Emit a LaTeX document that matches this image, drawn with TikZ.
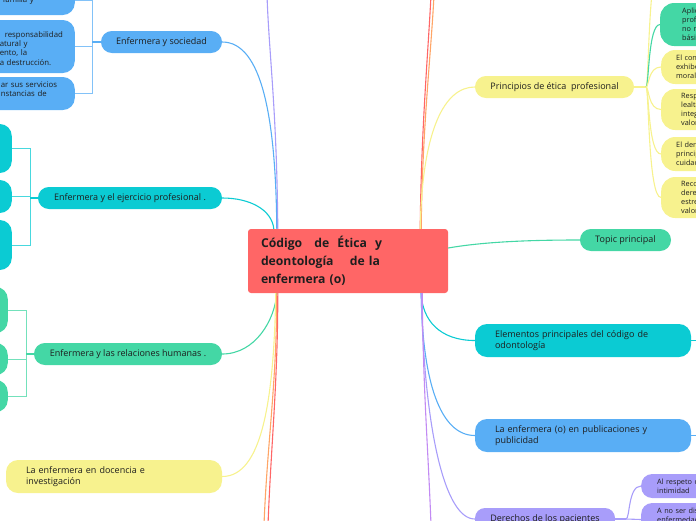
\documentclass[tikz,border=0pt]{standalone}
\usepackage{fontspec}
\setmainfont{Open Sans}
\definecolor{cred}{HTML}{FF6666}
\definecolor{cblue}{HTML}{59AEF5}
\definecolor{cteal}{HTML}{0BCBD3}
\definecolor{cgreen}{HTML}{44D7A5}
\definecolor{cyellow}{HTML}{F7F28E}
\definecolor{cpurple}{HTML}{A89DFA}
\definecolor{cviolet}{HTML}{C28AF3}
\definecolor{corange}{HTML}{FFA566}
\definecolor{txt}{HTML}{1E1E1E}
\begin{document}
\begin{tikzpicture}[x=1pt,y=-1pt,
  conn/.style={draw=#1, line width=1.1pt},
  brk/.style={draw=#1!75!white, line width=1pt},
  pill/.style={fill=#1, draw=none, rounded corners=10.9pt, inner sep=0pt, text=txt,
     minimum height=22pt, font=\fontsize{9}{11}\selectfont},
  tbox/.style={fill=#1, draw=none, rounded corners=12pt, inner ysep=0pt, text=txt,
     align=left, font=\fontsize{9}{11.2}\selectfont},
  sbox/.style={fill=#1, draw=none, rounded corners=12pt, inner ysep=0pt, text=txt,
     align=left, font=\fontsize{7.8}{9.3}\selectfont,
     execute at begin node={\hyphenpenalty=10000\exhyphenpenalty=10000}},
  rbox/.style={fill=#1, draw=none, rounded corners=14pt, inner ysep=0pt, text=txt,
     align=left, font=\fontsize{7.3}{8.9}\selectfont,
     execute at begin node={\hyphenpenalty=10000\exhyphenpenalty=10000}},
  ]
\useasboundingbox (0,0) rectangle (696,520);
\clip (0,0) rectangle (696,520);

% central
\node[fill=cred, rounded corners=3pt, inner ysep=0pt, inner xsep=13pt, minimum height=64pt,
  text width=174pt, align=left, text=txt, font=\fontsize{12.2}{18}\selectfont\bfseries]
  (c) at (348,261) {Código\ \ \ de\ \ Ética\ \ y\\deontología\ \ \ \ de la\\enfermera (o)};

% ---------- left side
\node[pill=cblue, minimum width=121pt] (soc) at (161.5,42) {Enfermera y sociedad};
\node[pill=cteal, minimum width=184pt] (ejer) at (130,198) {Enfermera y el ejercicio profesional .};
\node[pill=cgreen, minimum width=188pt] (rel) at (128,354) {Enfermera y las relaciones humanas .};
\node[tbox=cyellow, inner xsep=20pt, text width=176pt, minimum height=33pt] (doc) at (114,476.5)
  {La enfermera en docencia e\\investigación};

% blue children
\node[sbox=cblue, anchor=east, inner xsep=12pt, text width=63pt, minimum height=30pt] (b1) at (75,0) {\hspace*{3pt}familia y};
\node[sbox=cblue, anchor=east, inner xsep=12pt, text width=63pt, minimum height=53pt] (b2) at (75,46.5)
  {\mbox{}\\\hspace*{5pt}responsabilidad\\atural y\\ento, la\\a destrucción.};
\node[sbox=cblue, anchor=east, inner xsep=12pt, text width=63pt, minimum height=33pt] (b3) at (75,93.5)
  {\hspace*{1pt}ar sus servicios\\\hspace*{1pt}nstancias de\\\mbox{}};
% teal children
\node[sbox=cteal, anchor=east, minimum width=40pt, minimum height=49pt] (e1) at (12,148.5) {};
\node[sbox=cteal, anchor=east, minimum width=40pt, minimum height=33pt] (e2) at (12,196.5) {};
\node[sbox=cteal, anchor=east, minimum width=40pt, minimum height=50pt] (e3) at (12,245) {};
% green children
\node[sbox=cgreen, anchor=east, minimum width=40pt, minimum height=46pt] (g1) at (8,310) {};
\node[sbox=cgreen, anchor=east, minimum width=40pt, minimum height=32pt] (g2) at (8,359) {};
\node[sbox=cgreen, anchor=east, minimum width=40pt, minimum height=32pt] (g3) at (8,396) {};

% brackets
\coordinate (sbr) at (92,42);
\draw[brk=cblue] (b1.east) -- (b1.east -| sbr) -- (b3.east -| sbr) -- (b3.east);
\draw[brk=cblue] (b2.east) -- (b2.east -| sbr);
\draw[conn=cblue] (sbr) -- (soc.west);
\coordinate (ebr) at (30,198);
\draw[brk=cteal] (e1.east) -- (e1.east -| ebr) -- (e3.east -| ebr) -- (e3.east);
\draw[brk=cteal] (e2.east) -- (e2.east -| ebr);
\draw[conn=cteal] (ebr) -- (ejer.west);
\coordinate (rbr) at (26,354);
\draw[brk=cgreen] (g1.east) -- (g1.east -| rbr) -- (g3.east -| rbr) -- (g3.east);
\draw[brk=cgreen] (g2.east) -- (g2.east -| rbr);
\draw[conn=cgreen] (rbr) -- (rel.west);

% off-canvas ends
\coordinate (pup) at (267,-5);
\coordinate (rdown) at (268,525);
\coordinate (odown) at (264,525);
\coordinate (rup) at (431,-5);
\coordinate (oup) at (434,-5);
\coordinate (vdown) at (431,525);

% left connectors
\draw[conn=cpurple] ([xshift=30pt]c.north west) .. controls +(-1,-120) and +(2,60) .. (pup);
\draw[conn=cblue] (soc.east) .. controls +(40,0) and +(-1,-110) .. ([xshift=29pt]c.north west);
\draw[conn=cteal] (ejer.east) .. controls +(28,0) and +(-2,-19) .. ([xshift=26pt]c.north west);
\draw[conn=cgreen] (rel.east) .. controls +(33,0) and +(-2,27) .. ([xshift=29pt]c.south west);
\draw[conn=cyellow] (doc.east) .. controls +(40,0) and +(-2,107) .. ([xshift=28pt]c.south west);
\draw[conn=corange] ([xshift=29pt]c.south west) .. controls +(0,90) and +(3,-80) .. (odown);
\draw[conn=cred] ([xshift=30pt]c.south west) .. controls +(0,90) and +(3,-80) .. (rdown);

% ---------- right side
\node[pill=cyellow, minimum width=159pt] (prin) at (554.5,87) {Principios de ética\ \ profesional};
\node[pill=cgreen, minimum width=91pt] (topic) at (625.5,240) {Topic principal};
\node[tbox=cteal, inner xsep=20pt, text width=176pt, minimum height=33pt] (elem) at (583,340.5)
  {Elementos principales del código de\\odontología};
\node[tbox=cblue, inner xsep=20pt, text width=176pt, minimum height=33pt] (pub) at (583,435.5)
  {La enfermera (o) en publicaciones y\\publicidad};
\node[pill=cpurple, minimum width=140pt, rounded corners=10pt] (der) at (545,519) {Derechos de los pacientes};

% principios children
\node[rbox=cgreen, anchor=west, inner xsep=22pt, text width=56pt, minimum height=43pt] (p1) at (660,24.5)
  {Aplica\\profes\\no ma\\básica};
\node[rbox=cyellow, anchor=west, inner xsep=15pt, text width=70pt, minimum height=34pt] (p2) at (661,67)
  {El cono\\exhibe\\morale};
\node[rbox=cyellow, anchor=west, inner xsep=20pt, text width=60pt, minimum height=41pt] (p3) at (661,109.5)
  {Respe\\lealta\\integr\\valore};
\node[rbox=cyellow, anchor=west, inner xsep=15pt, text width=70pt, minimum height=34pt] (p4) at (661,154)
  {El dere\\princip\\cuidad};
\node[rbox=cyellow, anchor=west, inner xsep=20pt, text width=60pt, minimum height=41pt] (p5) at (661,197.5)
  {Recon\\derec\\estre\\valore};
\coordinate (ptop) at (661,-40);
\coordinate (pb) at (646,87);
\draw[conn=cyellow] (prin.east) -- (pb);
\draw[conn=cyellow] (pb) .. controls (649,87) and (648,-40) .. (ptop);
\draw[conn=cgreen] (pb) .. controls (649,87) and (648,24.5) .. (p1.west);
\draw[conn=cyellow] (pb) .. controls (649,87) and (648,67) .. (p2.west);
\draw[conn=cyellow] (pb) .. controls (649,87) and (648,109.5) .. (p3.west);
\draw[conn=cyellow] (pb) .. controls (649,87) and (648,154) .. (p4.west);
\draw[conn=cyellow] (pb) .. controls (649,87) and (648,197.5) .. (p5.west);

% derechos children
\node[rbox=cpurple, anchor=west, rounded corners=11pt, inner xsep=16pt, text width=70pt, minimum height=24pt] (d1) at (641,486)
  {Al respeto de\\intimidad};
\node[rbox=cpurple, anchor=west, rounded corners=11pt, inner xsep=16pt, text width=70pt, minimum height=33pt] (d2) at (641,519.5)
  {A no ser disc\\enfermedad\\\mbox{}};
\coordinate (db) at (626,519);
\draw[conn=cpurple] (der.east) -- (db);
\draw[conn=cpurple] (db) .. controls (630,519) and (628,486) .. (d1.west);
\draw[conn=cpurple] (db) -- (d2.west);

% off-canvas continuations
\coordinate (eoff) at (720,340.5);
\coordinate (poff) at (720,435.5);
\draw[conn=cteal] (elem.east) -- (eoff);
\draw[conn=cblue] (pub.east) -- (poff);

% right connectors
\draw[conn=cred] ([xshift=-28pt]c.north east) .. controls +(1,-100) and +(-3,60) .. (rup);
\draw[conn=corange] ([xshift=-27pt]c.north east) .. controls +(1,-100) and +(-3,60) .. (oup);
\draw[conn=cyellow] ([xshift=-28pt]c.north east) .. controls +(2,-100) and +(-30,0) .. (prin.west);
\draw[conn=cgreen] ([yshift=13pt]c.east) .. controls +(40,-7) and +(-40,0) .. (topic.west);
\draw[conn=cteal] ([xshift=-27pt]c.south east) .. controls +(1,27) and +(-35,0) .. (elem.west);
\draw[conn=cblue] ([xshift=-27pt]c.south east) .. controls +(1,87) and +(-35,0) .. (pub.west);
\draw[conn=cpurple] ([xshift=-27pt]c.south east) .. controls +(3,137) and +(-30,0) .. (der.west);
\draw[conn=cviolet] ([xshift=-26pt]c.south east) .. controls +(1,100) and +(-3,-80) .. (vdown);
\end{tikzpicture}
\end{document}
